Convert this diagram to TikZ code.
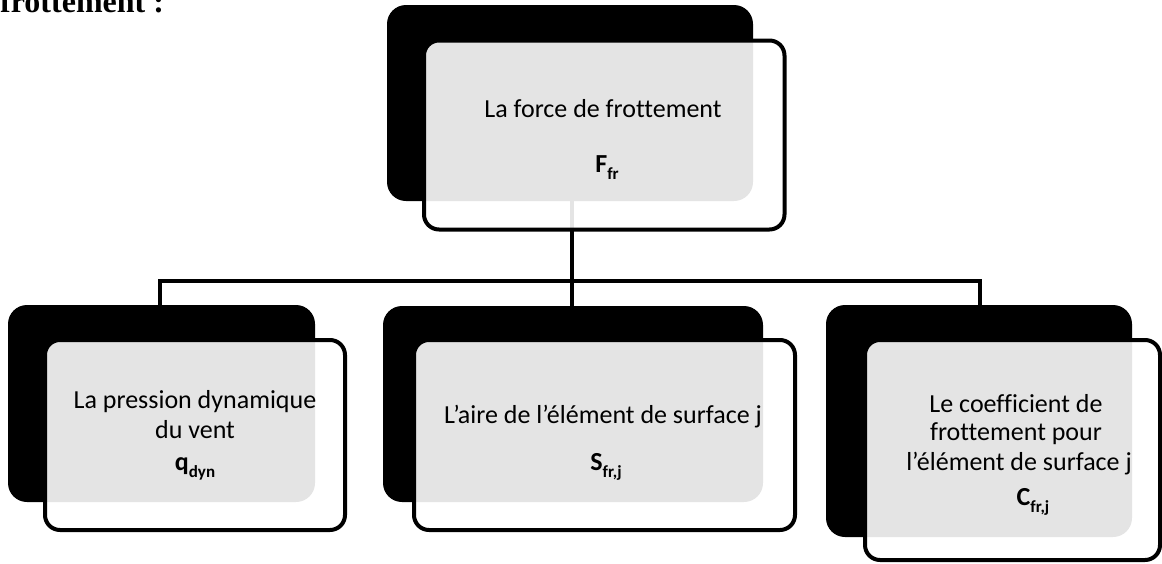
\documentclass[tikz,border=0pt]{standalone}
\usepackage{fontspec}
\setmainfont{Carlito}[Ligatures=NoCommon]
\newfontfamily\titlefont{Liberation Serif}
\usetikzlibrary{backgrounds}
\newcommand\mysub[1]{\raisebox{-7pt}{\fontsize{17}{17}\selectfont #1}}
\tikzset{
  backbox/.style={fill=black, draw=none, rounded corners=19pt, inner sep=0pt},
  frontbox/.style={draw=black, line width=4pt, fill=white, fill opacity=0.894, draw opacity=1, rounded corners=15pt, inner sep=0pt},
  link/.style={draw=black, line width=4pt},
  lbl/.style={anchor=base, inner sep=0pt, font=\fontsize{26}{29}\selectfont},
  var/.style={anchor=base, inner sep=0pt, font=\fontsize{26}{29}\selectfont\bfseries},
}
\begin{document}
\begin{tikzpicture}[x=1pt,y=-1pt]
\useasboundingbox (0,0) rectangle (1162,563);
% title
\node[anchor=base west, inner sep=0pt, font=\titlefont\bfseries\fontsize{32}{36}\selectfont] (title) at (0,12.5) {frottement :};
% back boxes
\node[backbox, minimum width=366pt, minimum height=196pt] (topb) at (570,103) {};
\node[backbox, minimum width=307pt, minimum height=197pt] (blb) at (161.5,403.5) {};
\node[backbox, minimum width=380pt, minimum height=196pt] (bmb) at (573,404) {};
\node[backbox, minimum width=306pt, minimum height=232pt] (brb) at (979,421) {};
% front boxes
\node[frontbox, minimum width=360.5pt, minimum height=189pt] (topf) at (604.25,135) {};
\node[frontbox, minimum width=300pt, minimum height=190pt] (blf) at (195,435) {};
\node[frontbox, minimum width=381pt, minimum height=190pt] (bmf) at (604.5,435) {};
\node[frontbox, minimum width=295pt, minimum height=220pt] (brf) at (1012.5,450) {};
% connectors
\coordinate (hub) at (571.5,280.5);
\begin{pgfonlayer}{background}
\draw[link] (topb.center -| hub) -- (hub);
\draw[link, line join=miter] (blb.north -| 160,0) |- (hub) -| (brb.north -| 980,0);
\draw[link] (hub) -- (bmb.north -| hub);
\end{pgfonlayer}
% texts
\node[lbl] (toptxt) at (603,117) {La force de frottement};
\node[var] (topvar) at (607,172) {F\mysub{fr}};
\node[lbl] (bltxta) at (195,408) {La pression dynamique};
\node[lbl] (bltxtb) at (195,438) {du vent};
\node[var] (blvar) at (195,470) {q\mysub{dyn}};
\node[lbl] (bmtxt) at (603,423) {L’aire de l’élément de surface j};
\node[var] (bmvar) at (606,470) {S\mysub{fr,j}};
\node[lbl] (brtxta) at (1016,412) {Le coefficient de};
\node[lbl] (brtxtb) at (1016,440) {frottement pour};
\node[lbl] (brtxtc) at (1019,470) {l’élément de surface j};
\node[var] (brvar) at (1033,505) {C\mysub{fr,j}};
\end{tikzpicture}
\end{document}
